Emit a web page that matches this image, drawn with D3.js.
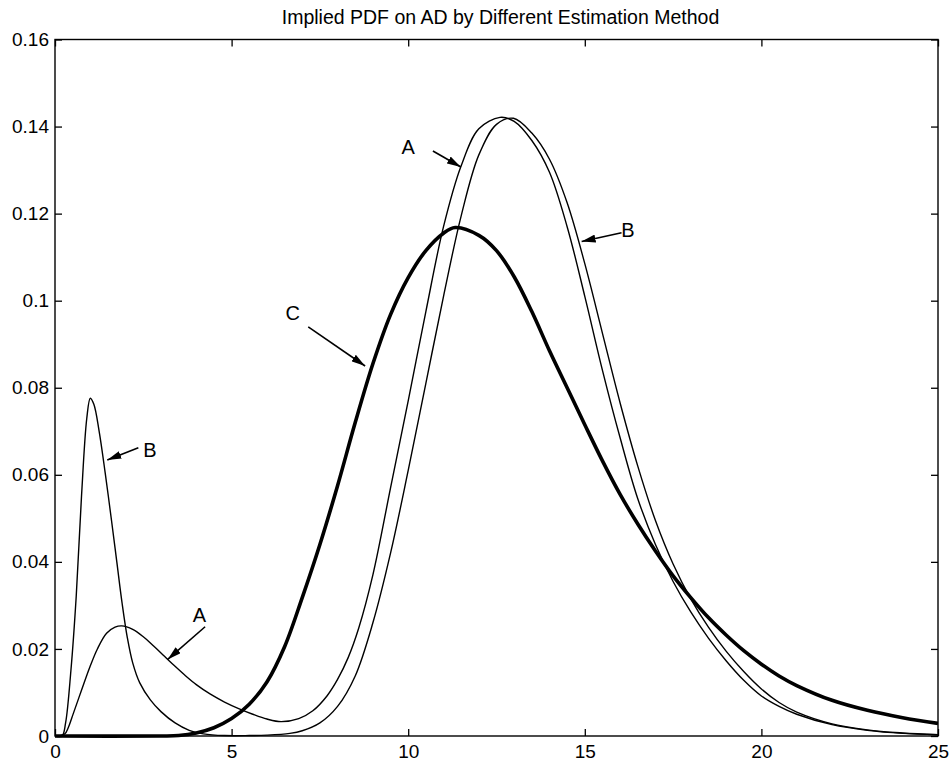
<!DOCTYPE html>
<html>
<head>
<meta charset="utf-8">
<script src="https://cdn.jsdelivr.net/npm/d3@7/dist/d3.min.js"></script>
<style>
  html, body { margin: 0; padding: 0; background: #fff; }
  svg { display: block; }
  text { font-family: "Liberation Sans", Arial, Helvetica, sans-serif; fill: #000; }
</style>
</head>
<body>
<svg id="chart" width="952" height="767"></svg>
<script>
// Estimated density curves (x = AD, y = probability density)
const seriesA = [
  [0, 0], [0.15, 0.0001], [0.28, 0.0005], [0.38, 0.0020], [0.52, 0.0052], [0.75, 0.0105],
  [0.99, 0.0159], [1.2, 0.0200], [1.46, 0.0236], [1.7, 0.0250], [1.89, 0.0253],
  [2.2, 0.0245], [2.5, 0.0228], [2.8, 0.0206], [3.1, 0.0183], [3.4, 0.0160],
  [3.7, 0.0138], [4.0, 0.0118], [4.4, 0.0096], [4.8, 0.0078], [5.2, 0.0063],
  [5.6, 0.0050], [6.0, 0.0039], [6.4, 0.0033], [6.9, 0.0040], [7.3, 0.0058],
  [7.7, 0.0092], [8.0, 0.0130], [8.3, 0.0180], [8.6, 0.0248], [9.0, 0.0370],
  [9.5, 0.0570], [10.0, 0.0770], [10.5, 0.0975], [11.0, 0.1170], [11.5, 0.1310],
  [12.0, 0.1395], [12.6, 0.1421], [13.0, 0.1412], [13.5, 0.1368], [14.0, 0.1295],
  [14.5, 0.1170], [15.0, 0.1010], [15.5, 0.0840], [16.0, 0.0685], [16.5, 0.0545],
  [17.0, 0.0440], [17.5, 0.0355], [18.0, 0.0285], [18.5, 0.0225], [19.0, 0.0173],
  [19.5, 0.0128], [20.0, 0.0092], [20.5, 0.0068], [21, 0.0050], [22, 0.0026],
  [23, 0.0013], [24, 0.0006], [25, 0.0003]
];

const seriesB = [
  [0, 0], [0.2, 0], [0.3, 0.003], [0.45, 0.015], [0.6, 0.032], [0.75, 0.055],
  [0.9, 0.073], [1.0, 0.0776], [1.1, 0.0762], [1.25, 0.0700], [1.42, 0.0605],
  [1.6, 0.0495], [1.75, 0.0400], [1.9, 0.0305], [2.05, 0.0225], [2.2, 0.0168],
  [2.4, 0.0122], [2.7, 0.0083], [3.0, 0.0056], [3.4, 0.0030], [3.8, 0.0013],
  [4.2, 0.0005], [4.8, 0.0001], [5.5, 0.0001], [6.0, 0.0002], [6.65, 0.0006],
  [7.0, 0.0012], [7.5, 0.0030], [8.0, 0.0068], [8.5, 0.0138], [9.0, 0.0260],
  [9.5, 0.0420], [10.0, 0.0610], [10.5, 0.0810], [11.0, 0.1010], [11.5, 0.1195],
  [12.0, 0.1335], [12.5, 0.1405], [12.98, 0.1419], [13.5, 0.1385], [14.0, 0.1325],
  [14.5, 0.1225], [15.0, 0.1085], [15.5, 0.0925], [16.0, 0.0765], [16.5, 0.0620],
  [17.0, 0.0495], [17.5, 0.0395], [18.0, 0.0315], [18.5, 0.0250], [19.0, 0.0195],
  [19.5, 0.0148], [20.0, 0.0108], [20.5, 0.0077], [21, 0.0055], [22, 0.0028],
  [23, 0.0014], [24, 0.0007], [25, 0.0003]
];

const seriesC = [
  [0, 0], [3.0, 0], [3.5, 0.0001], [4.0, 0.0007], [4.5, 0.0019], [5.0, 0.0040],
  [5.5, 0.0073], [6.0, 0.0124], [6.5, 0.0205], [7.0, 0.0318], [7.5, 0.0440],
  [8.0, 0.0575], [8.5, 0.0720], [9.0, 0.0855], [9.5, 0.0968], [10.0, 0.1053],
  [10.5, 0.1115], [11.0, 0.1155], [11.33, 0.1168], [12.0, 0.1150], [12.5, 0.1115],
  [13.0, 0.1055], [13.5, 0.0975], [14.0, 0.0885], [14.5, 0.0800], [15.0, 0.0715],
  [15.5, 0.0632], [16.0, 0.0555], [16.5, 0.0487], [17.0, 0.0425], [17.5, 0.0368],
  [18.0, 0.0318], [18.5, 0.0272], [19.0, 0.0232], [19.5, 0.0196], [20.0, 0.0165],
  [20.5, 0.0138], [21.0, 0.0116], [22.0, 0.0082], [23.0, 0.0059], [24.0, 0.0042],
  [25, 0.0029]
];

const xTicks = [0, 5, 10, 15, 20, 25];
const yTicks = [0, 0.02, 0.04, 0.06, 0.08, 0.1, 0.12, 0.14, 0.16];
const yTickLabels = ["0", "0.02", "0.04", "0.06", "0.08", "0.1", "0.12", "0.14", "0.16"];

// Curve callouts: label position, arrow tail and arrow tip, in data units
const callouts = [
  { label: "A", at: [10.0, 0.1353], from: [10.70, 0.1344], to: [11.49, 0.1307] },
  { label: "B", at: [16.22, 0.1162], from: [16.04, 0.1156], to: [14.91, 0.1136] },
  { label: "C", at: [6.73, 0.0971], from: [7.17, 0.0940], to: [8.78, 0.0850] },
  { label: "B", at: [2.69, 0.0657], from: [2.36, 0.0662], to: [1.48, 0.0634] },
  { label: "A", at: [4.09, 0.0278], from: [4.25, 0.0251], to: [3.19, 0.0176] }
];

const chartTitle = "Implied PDF on AD by Different Estimation Method";

const svg = d3.select("#chart");
const W = 952, H = 767;
const margin = { top: 39.5, right: 14, bottom: 31, left: 55 };

const x = d3.scaleLinear().domain([0, 25]).range([margin.left, W - margin.right]);
const y = d3.scaleLinear().domain([0, 0.16]).range([H - margin.bottom, margin.top]);

svg.append("rect").attr("width", W).attr("height", H).attr("fill", "#fff");

const FONT = 19;
const TICK = 7;

// Bottom axis with labels, inward ticks
const gx = svg.append("g")
  .attr("transform", `translate(0,${y(0)})`)
  .call(d3.axisBottom(x).tickValues(xTicks).tickSizeInner(-TICK).tickSizeOuter(0)
    .tickPadding(9).tickFormat(d3.format("d")));
// Left axis
const gy = svg.append("g")
  .attr("transform", `translate(${x(0)},0)`)
  .call(d3.axisLeft(y).tickValues(yTicks).tickSizeInner(-TICK).tickSizeOuter(0)
    .tickPadding(6).tickFormat((d, i) => yTickLabels[i]));
// Top and right axes: ticks only
const gxt = svg.append("g")
  .attr("transform", `translate(0,${y(0.16)})`)
  .call(d3.axisTop(x).tickValues(xTicks).tickSizeInner(-TICK).tickSizeOuter(0).tickFormat(""));
const gyr = svg.append("g")
  .attr("transform", `translate(${x(25)},0)`)
  .call(d3.axisRight(y).tickValues(yTicks).tickSizeInner(-TICK).tickSizeOuter(0).tickFormat(""));

[gx, gy, gxt, gyr].forEach(g => {
  g.select(".domain").remove();
  g.selectAll(".tick line").attr("stroke", "#000").attr("stroke-width", 1.3);
  g.selectAll(".tick text").attr("font-size", FONT).attr("fill", "#000")
    .style("font-family", '"Liberation Sans", Arial, Helvetica, sans-serif');
});

// Plot box
svg.append("rect")
  .attr("x", x(0)).attr("y", y(0.16))
  .attr("width", x(25) - x(0)).attr("height", y(0) - y(0.16))
  .attr("fill", "none").attr("stroke", "#000").attr("stroke-width", 1.4);

// Curves (clipped to the plot box)
svg.append("clipPath").attr("id", "plot-clip")
  .append("rect")
  .attr("x", x(0)).attr("y", y(0.16))
  .attr("width", x(25) - x(0)).attr("height", y(0) - y(0.16) + 2);

const line = d3.line()
  .x(d => x(d[0]))
  .y(d => y(d[1]))
  .curve(d3.curveCatmullRom.alpha(0.5));

const plot = svg.append("g").attr("clip-path", "url(#plot-clip)");
plot.append("path").datum(seriesA).attr("d", line)
  .attr("fill", "none").attr("stroke", "#000").attr("stroke-width", 1.4);
plot.append("path").datum(seriesB).attr("d", line)
  .attr("fill", "none").attr("stroke", "#000").attr("stroke-width", 1.4);
plot.append("path").datum(seriesC).attr("d", line)
  .attr("fill", "none").attr("stroke", "#000").attr("stroke-width", 3.6);

// Arrowhead marker
svg.append("defs").append("marker")
  .attr("id", "arrowhead")
  .attr("viewBox", "0 0 14 8")
  .attr("refX", 14).attr("refY", 4)
  .attr("markerWidth", 14).attr("markerHeight", 8)
  .attr("markerUnits", "userSpaceOnUse")
  .attr("orient", "auto")
  .append("path").attr("d", "M0,0 L14,4 L0,8 Z").attr("fill", "#000");

const ann = svg.append("g");
callouts.forEach(c => {
  ann.append("line")
    .attr("x1", x(c.from[0])).attr("y1", y(c.from[1]))
    .attr("x2", x(c.to[0])).attr("y2", y(c.to[1]))
    .attr("stroke", "#000").attr("stroke-width", 1.6)
    .attr("marker-end", "url(#arrowhead)");
  ann.append("text")
    .attr("x", x(c.at[0])).attr("y", y(c.at[1]))
    .attr("text-anchor", "middle").attr("dy", "0.35em")
    .attr("font-size", 20)
    .text(c.label);
});

// Title
svg.append("text")
  .attr("x", (x(0) + x(25)) / 2 + 4).attr("y", 23.5)
  .attr("text-anchor", "middle")
  .attr("font-size", 19.5)
  .text(chartTitle);
</script>
</body>
</html>
